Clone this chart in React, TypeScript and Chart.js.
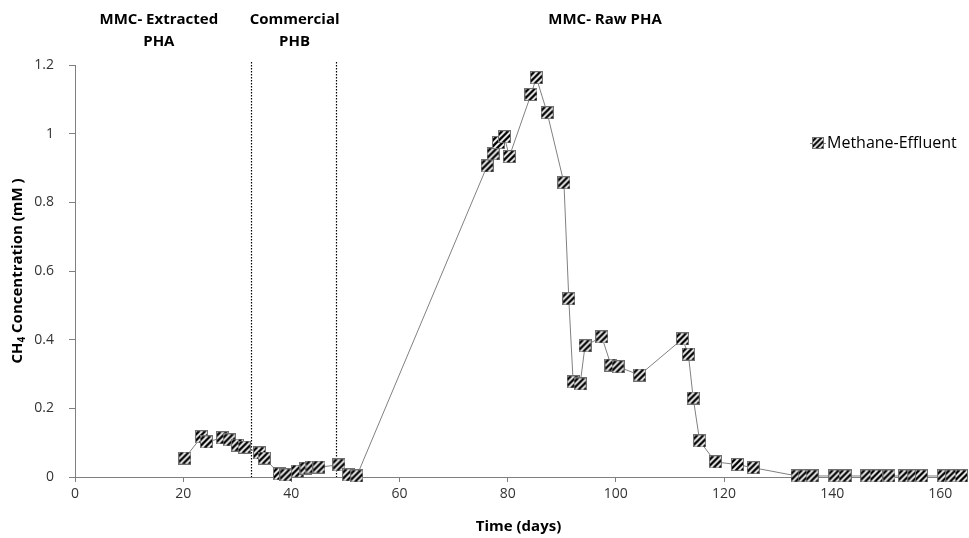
import React, { useEffect, useRef } from "react";
import { Chart, registerables } from "chart.js";

Chart.register(...registerables);

// ---- data ----
const days = [
  20.3, 23.4, 24.3, 27.3, 28.5, 30.0, 31.3, 34.1, 35.0, 37.8, 39.0, 41.1, 42.7, 43.8, 45.1, 48.8, 50.6, 52.1,
  76.2, 77.3, 78.3, 79.4, 80.3, 84.3, 85.3, 87.3, 90.4, 91.3, 92.1, 93.4, 94.3, 97.4, 99.1, 100.4, 104.4,
  112.3, 113.4, 114.3, 115.5, 118.4, 122.5, 125.4, 133.5, 134.8, 136.3, 140.5, 142.4, 146.4, 148.2, 150.5,
  153.4, 155.1, 156.5, 160.6, 162.1, 163.9,
];
const methane = [
  0.055, 0.117, 0.102, 0.114, 0.108, 0.093, 0.087, 0.07, 0.055, 0.009, 0.006, 0.017, 0.026, 0.029, 0.029, 0.035, 0.006, 0.003,
  0.906, 0.941, 0.974, 0.991, 0.933, 1.114, 1.163, 1.061, 0.857, 0.519, 0.277, 0.271, 0.382, 0.408, 0.326, 0.321, 0.297,
  0.402, 0.358, 0.23, 0.105, 0.044, 0.036, 0.027, 0.003, 0.003, 0.003, 0.003, 0.003, 0.003, 0.003, 0.003,
  0.003, 0.003, 0.003, 0.003, 0.003, 0.003,
];
const seriesName = "Methane-Effluent";
const xTickValues = [0, 20, 40, 60, 80, 100, 120, 140, 160];
const yTickValues = [0, 0.2, 0.4, 0.6, 0.8, 1, 1.2];
const phaseBoundaries = [32.6, 48.3];
const phaseLabels = [
  { lines: ["MMC- Extracted", "PHA"], day: 15.5 },
  { lines: ["Commercial", "PHB"], day: 40.6 },
  { lines: ["MMC- Raw PHA"], day: 98 },
];
const xTitle = "Time (days)";
const yTitleParts = ["CH", "4", " Concentration (mM )"];

const FONT = "'Open Sans', sans-serif";

function makeMarker(size: number): HTMLCanvasElement {
  const c = document.createElement("canvas");
  c.width = size;
  c.height = size;
  const g = c.getContext("2d")!;
  g.fillStyle = "#ffffff";
  g.fillRect(0, 0, size, size);
  g.save();
  g.beginPath();
  g.rect(1, 1, size - 2, size - 2);
  g.clip();
  g.strokeStyle = "#000000";
  g.lineWidth = 2.3;
  for (let k = -2 * size; k <= 2 * size; k += 6) {
    g.beginPath();
    g.moveTo(k, size);
    g.lineTo(k + size, 0);
    g.stroke();
  }
  g.restore();
  g.strokeStyle = "#707070";
  g.lineWidth = 1;
  g.strokeRect(0.5, 0.5, size - 1, size - 1);
  return c;
}

export default function App() {
  const ref = useRef<HTMLCanvasElement>(null);
  useEffect(() => {
    const marker = makeMarker(13);
    const overlay = {
      id: "overlay",
      beforeDatasetsDraw(chart: any) {
        const { ctx, chartArea, scales } = chart;
        ctx.save();
        ctx.strokeStyle = "#000";
        ctx.lineWidth = 1.2;
        ctx.setLineDash([1.5, 1.5]);
        phaseBoundaries.forEach((d) => {
          const x = Math.round(scales.x.getPixelForValue(d)) + 0.5;
          ctx.beginPath();
          ctx.moveTo(x, chartArea.top - 3);
          ctx.lineTo(x, chartArea.bottom);
          ctx.stroke();
        });
        ctx.restore();
      },
      afterDraw(chart: any) {
        const { ctx, chartArea, scales } = chart;
        ctx.save();
        ctx.fillStyle = "#000";
        ctx.textAlign = "center";
        ctx.textBaseline = "middle";
        ctx.font = `bold 15px ${FONT}`;
        phaseLabels.forEach((p) => {
          const x = scales.x.getPixelForValue(p.day);
          p.lines.forEach((ln, i) => ctx.fillText(ln, x, 20 + i * 22));
        });
        // x title
        ctx.font = `bold 15px ${FONT}`;
        ctx.fillText(xTitle, (chartArea.left + chartArea.right) / 2, 527);
        // y title with subscript
        ctx.save();
        ctx.translate(18, (chartArea.top + chartArea.bottom) / 2);
        ctx.rotate(-Math.PI / 2);
        ctx.textAlign = "left";
        const big = `bold 15px ${FONT}`;
        const small = `bold 10px ${FONT}`;
        ctx.font = big;
        const w0 = ctx.measureText(yTitleParts[0]).width;
        const w2 = ctx.measureText(yTitleParts[2]).width;
        ctx.font = small;
        const w1 = ctx.measureText(yTitleParts[1]).width;
        let x = -(w0 + w1 + w2) / 2;
        ctx.font = big;
        ctx.fillText(yTitleParts[0], x, 0);
        x += w0;
        ctx.font = small;
        ctx.fillText(yTitleParts[1], x, 4);
        x += w1;
        ctx.font = big;
        ctx.fillText(yTitleParts[2], x, 0);
        ctx.restore();
        // legend
        const ly = 143;
        ctx.strokeStyle = "#808080";
        ctx.lineWidth = 1;
        ctx.beginPath();
        ctx.moveTo(810, ly + 0.5);
        ctx.lineTo(826, ly + 0.5);
        ctx.stroke();
        ctx.drawImage(marker, 812, ly - 6, 12, 12);
        ctx.textAlign = "left";
        ctx.font = `16px ${FONT}`;
        ctx.fillText(seriesName, 827, ly);
        ctx.restore();
      },
    };

    const chart = new Chart(ref.current!, {
      type: "scatter",
      data: {
        datasets: [
          {
            label: seriesName,
            data: days.map((d, i) => ({ x: d, y: methane[i] })),
            showLine: true,
            borderColor: "#808080",
            borderWidth: 1,
            pointStyle: marker as any,
            pointRadius: 6,
            clip: false as any,
          },
        ],
      },
      options: {
        responsive: false,
        animation: false,
        layout: { padding: { top: 65, right: 3, left: 0, bottom: 0 } },
        plugins: { legend: { display: false }, tooltip: { enabled: false } },
        scales: {
          x: {
            type: "linear",
            min: 0,
            max: 164,
            afterBuildTicks: (s: any) => {
              s.ticks = xTickValues.map((v) => ({ value: v }));
            },
            afterFit: (s: any) => {
              s.height = 61;
            },
            grid: { drawOnChartArea: false, color: "#808080", tickLength: 5 },
            border: { color: "#808080" },
            ticks: {
              color: "#333333",
              font: { family: FONT, size: 14 },
              padding: 4,
              maxRotation: 0,
              callback: (v: any) => String(v),
            },
          },
          y: {
            min: 0,
            max: 1.2,
            afterBuildTicks: (s: any) => {
              s.ticks = yTickValues.map((v) => ({ value: v }));
            },
            afterFit: (s: any) => {
              s.width = 75;
            },
            grid: { drawOnChartArea: false, color: "#808080", tickLength: 6 },
            border: { color: "#808080" },
            ticks: {
              color: "#333333",
              font: { family: FONT, size: 14 },
              padding: 15,
              callback: (v: any) => String(Math.round(Number(v) * 10) / 10),
            },
          },
        },
      },
      plugins: [overlay],
    });
    return () => chart.destroy();
  }, []);
  return (
    <div style={{ position: "fixed", left: 0, top: 0, width: 969, height: 538, background: "#fff" }}>
      <canvas ref={ref} width={969} height={538} />
    </div>
  );
}
